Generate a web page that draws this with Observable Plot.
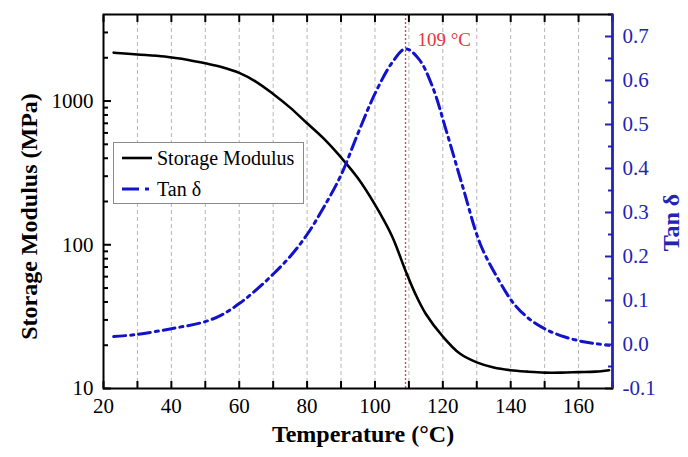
<!DOCTYPE html>
<html><head><meta charset="utf-8">
<script src="https://cdn.jsdelivr.net/npm/d3@7"></script>
<script src="https://cdn.jsdelivr.net/npm/@observablehq/plot@0.6"></script>
<style>
body{margin:0;background:#fff;}
#wrap{position:relative;width:688px;height:457px;}
#legend{position:absolute;left:113px;top:142px;width:189px;height:60px;border:1px solid #8a8a8a;background:#fff;}
</style></head>
<body><div id="wrap"><div id="legend"></div></div>
<script>
// ---- data ----
const modT   = [23,30,38,45,50,55,60,65,70,75,80,85,90,95,100,105,109,112,115,120,125,130,135,140,145,150,155,160,165,169];
const modVal = [2170,2110,2040,1930,1830,1720,1570,1360,1120,900,700,545,405,290,190,115,66,45,33,23,17.5,15.2,14.0,13.4,13.1,12.9,12.9,13.0,13.1,13.4];
const tanT   = [23,30,40,50,55,60,65,70,75,80,85,90,95,100,105,109,113,117,121,126,131,136,141,146,151,156,161,165,169];
const tanVal = [0.018,0.023,0.036,0.052,0.068,0.093,0.124,0.160,0.200,0.250,0.313,0.385,0.480,0.570,0.640,0.672,0.648,0.585,0.486,0.355,0.229,0.153,0.092,0.055,0.032,0.017,0.007,0.002,-0.002];
const peakT = 109;
const peakLabel = "109 °C";
const xDomain = [20, 170];
const modDomain = [10, 4000];
const tanDomain = [-0.1, 0.75];
const xLabelTicks = [20,40,60,80,100,120,140,160];
const xAllTicks = [20,30,40,50,60,70,80,90,100,110,120,130,140,150,160,170];
const xGridTicks = [30,40,50,60,70,80,90,100,110,120,130,140,150,160];
const yMajorTicks = [10,100,1000];
const yMinorTicks = [20,30,40,50,60,70,80,90,200,300,400,500,600,700,800,900,2000,3000];
const tanMajorTicks = [-0.1,0.0,0.1,0.2,0.3,0.4,0.5,0.6,0.7];
const tanMinorTicks = [-0.05,0.05,0.15,0.25,0.35,0.45,0.55,0.65,0.75];
const seriesNames = ["Storage Modulus", "Tan δ"];
const xTitle = "Temperature (°C)";
const yTitle = "Storage Modulus (MPa)";
const y2Title = "Tan δ";

const BLUE = "#1212cc", AXBLUE = "#2323b8", RED = "#e8363e";

// secondary (log) axis mapped onto the primary linear tan-delta scale
const logMap = d3.scaleLinear().domain([Math.log10(modDomain[0]), Math.log10(modDomain[1])]).range(tanDomain);
const modToY = v => logMap(Math.log10(v));
const yToMod = y => Math.pow(10, logMap.invert(y));

const mod = modT.map((t,i)=>({t, v: modToY(modVal[i])}));
const tan = tanT.map((t,i)=>({t, v: tanVal[i]}));

const font = "Liberation Serif";
const chart = Plot.plot({
  width: 688, height: 457,
  marginLeft: 103, marginRight: 76, marginTop: 14, marginBottom: 69,
  style: {fontFamily: font, fontSize: "21px", background: "white", color: "black"},
  x: {domain: xDomain, axis: null},
  y: {type: "linear", domain: tanDomain, axis: null},
  marks: [
    Plot.gridX(xGridTicks, {stroke: "#b5b5b5", strokeOpacity: 1, strokeDasharray: "4,3", strokeWidth: 1}),
    Plot.ruleX([peakT], {stroke: RED, strokeDasharray: "2,2", strokeWidth: 1.3}),
    Plot.line(mod, {x: "t", y: "v", stroke: "black", strokeWidth: 2.6, curve: "catmull-rom"}),
    Plot.line(tan, {x: "t", y: "v", stroke: BLUE, strokeWidth: 3, strokeDasharray: "12,5,3,5", curve: "catmull-rom"}),
    Plot.text([{t: peakT, s: peakLabel}], {x: "t", text: "s", frameAnchor: "top", dy: 18, dx: 12, textAnchor: "start", fill: RED, fontSize: 19}),
    // x axes
    Plot.axisX(xLabelTicks, {anchor: "bottom", tickSize: 0, tickPadding: 10, tickFormat: d => String(d), label: null, fontSize: 21}),
    Plot.axisX(xAllTicks, {anchor: "bottom", tickSize: -7, strokeWidth: 2, fill: "none", stroke: "black", label: null}),
    Plot.axisX(xAllTicks, {anchor: "top", tickSize: -7, strokeWidth: 2, fill: "none", stroke: "black", label: null}),
    // left y axes (storage modulus, log)
    Plot.axisY(yMajorTicks.map(modToY), {anchor: "left", tickSize: 0, tickPadding: 10, tickFormat: d => String(Math.round(yToMod(d))), label: null, fontSize: 21}),
    Plot.axisY(yMajorTicks.map(modToY), {anchor: "left", tickSize: -8, strokeWidth: 2, fill: "none", stroke: "black", label: null}),
    Plot.axisY(yMinorTicks.map(modToY), {anchor: "left", tickSize: -5, strokeWidth: 2, fill: "none", stroke: "black", label: null}),
    // right y axes (tan delta)
    Plot.axisY(tanMajorTicks, {anchor: "right", tickSize: 0, tickPadding: 10, tickFormat: d => d.toFixed(1), fill: AXBLUE, label: null, fontSize: 21}),
    Plot.axisY(tanMajorTicks, {anchor: "right", tickSize: -8, strokeWidth: 2, fill: "none", stroke: AXBLUE, label: null}),
    Plot.axisY(tanMinorTicks, {anchor: "right", tickSize: -5, strokeWidth: 2, fill: "none", stroke: AXBLUE, label: null}),
    // frame
    Plot.frame({stroke: "black", strokeWidth: 2}),
    Plot.ruleX([xDomain[1]], {stroke: AXBLUE, strokeWidth: 2.5}),
    // titles
    Plot.text([xTitle], {frameAnchor: "bottom", dy: 53, dx: 5, fontWeight: "bold", fontSize: 24}),
    Plot.text([yTitle], {frameAnchor: "left", textAnchor: "middle", dx: -74, dy: 15, rotate: -90, fontWeight: "bold", fontSize: 24}),
    Plot.text([y2Title], {frameAnchor: "right", textAnchor: "middle", dx: 59, dy: 21, rotate: -90, fontWeight: "bold", fontSize: 24, fill: AXBLUE})
  ]
});
document.getElementById("wrap").prepend(chart);

// legend
const lg = d3.select("#legend").append("svg").attr("width", 189).attr("height", 60)
  .style("font-family", font).style("font-size", "20px");
lg.append("line").attr("x1", 8).attr("x2", 38).attr("y1", 15).attr("y2", 15).attr("stroke", "black").attr("stroke-width", 2.6);
lg.append("line").attr("x1", 8).attr("x2", 38).attr("y1", 46).attr("y2", 46).attr("stroke", BLUE).attr("stroke-width", 3).attr("stroke-dasharray", "17,6,4,6");
lg.append("text").attr("x", 43).attr("y", 15).attr("dy", "0.35em").text(seriesNames[0]);
lg.append("text").attr("x", 43).attr("y", 46).attr("dy", "0.35em").text(seriesNames[1]);
</script></body></html>
